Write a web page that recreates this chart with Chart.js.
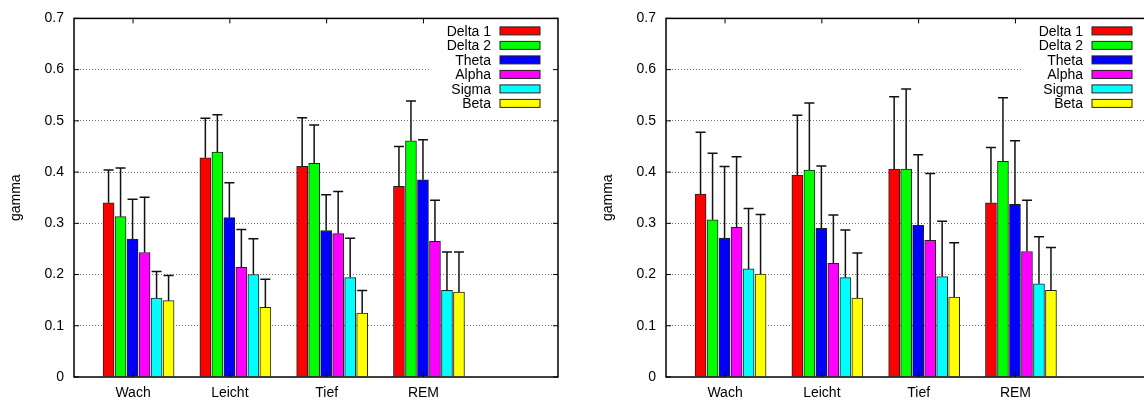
<html>
<head>
<script src="https://cdn.jsdelivr.net/npm/chart.js@4.4.1/dist/chart.umd.min.js"></script>
<style>
html, body { margin:0; padding:0; overflow:hidden; background:#fff; }
body { width:1144px; height:400px; position:relative; }
.panel { position:absolute; top:0; width:592px; height:400px; }
</style>
</head>
<body>
<div class="panel" style="left:0"><canvas id="left" width="592" height="400"></canvas></div>
<div class="panel" style="left:592px"><canvas id="right" width="592" height="400"></canvas></div>
<script>
// sleep stages on the x axis, frequency bands as series
var categories = ['Wach', 'Leicht', 'Tief', 'REM'];
var seriesNames = ['Delta 1', 'Delta 2', 'Theta', 'Alpha', 'Sigma', 'Beta'];
var yTicks = [0, 0.1, 0.2, 0.3, 0.4, 0.5, 0.6, 0.7];

// [series][category]
var leftMean = [
	[0.340, 0.428, 0.411, 0.372],
	[0.313, 0.439, 0.417, 0.461],
	[0.269, 0.311, 0.286, 0.385],
	[0.243, 0.214, 0.280, 0.265],
	[0.154, 0.200, 0.194, 0.169],
	[0.149, 0.136, 0.125, 0.166]
];
var leftErr = [
	[0.064, 0.077, 0.095, 0.078],
	[0.095, 0.073, 0.075, 0.078],
	[0.078, 0.068, 0.070, 0.078],
	[0.108, 0.074, 0.082, 0.080],
	[0.052, 0.070, 0.077, 0.075],
	[0.049, 0.055, 0.044, 0.078]
];
var rightMean = [
	[0.357, 0.394, 0.406, 0.340],
	[0.307, 0.404, 0.406, 0.421],
	[0.271, 0.290, 0.296, 0.337],
	[0.292, 0.222, 0.267, 0.245],
	[0.211, 0.194, 0.196, 0.182],
	[0.201, 0.154, 0.156, 0.169]
];
var rightErr = [
	[0.121, 0.117, 0.141, 0.108],
	[0.130, 0.131, 0.156, 0.124],
	[0.140, 0.122, 0.138, 0.124],
	[0.138, 0.094, 0.130, 0.100],
	[0.118, 0.093, 0.108, 0.092],
	[0.116, 0.088, 0.106, 0.084]
];

var colors = ['#ff0000', '#00ff00', '#0000ff', '#ff00ff', '#00ffff', '#ffff00'];
var FONT = '"Liberation Sans", Arial, Helvetica, sans-serif';
var barStep = 0.124;   // distance between bars in one cluster (x units)
var groupShift = 0.057;

// gnuplot look: frame, mirrored ticks, error bars, opaque key
var gnuplotLook = {
	id: 'gnuplotLook',
	beforeDatasetsDraw: function(chart) {
		var a = chart.chartArea, ctx = chart.ctx;
		ctx.save();
		ctx.fillStyle = '#fff';
		ctx.fillRect(a.right - 128, a.top + 2, 122, 92);
		ctx.restore();
	},
	afterDatasetsDraw: function(chart) {
		var a = chart.chartArea, ctx = chart.ctx;
		var xs = chart.scales.x, ys = chart.scales.y;
		var means = chart.options.plugins.gnuplotLook.means;
		var errs = chart.options.plugins.gnuplotLook.errs;
		ctx.save();
		// error bars
		ctx.strokeStyle = '#111';
		ctx.lineWidth = 1.5;
		chart.data.datasets.forEach(function(ds, j) {
			chart.getDatasetMeta(j).data.forEach(function(bar, i) {
				var top = ys.getPixelForValue(means[j][i] + errs[j][i]);
				ctx.beginPath();
				ctx.moveTo(bar.x, bar.y);
				ctx.lineTo(bar.x, top);
				ctx.moveTo(bar.x - 5, top);
				ctx.lineTo(bar.x + 5, top);
				ctx.stroke();
			});
		});
		// frame
		ctx.strokeStyle = '#000';
		ctx.lineWidth = 1.5;
		ctx.strokeRect(a.left, a.top, a.right - a.left, a.bottom - a.top);
		// mirrored ticks
		ctx.lineWidth = 1;
		ctx.beginPath();
		categories.forEach(function(c, i) {
			var px = xs.getPixelForValue(i);
			ctx.moveTo(px, a.top); ctx.lineTo(px, a.top + 5);
			ctx.moveTo(px, a.bottom); ctx.lineTo(px, a.bottom - 5);
		});
		yTicks.forEach(function(v) {
			var py = ys.getPixelForValue(v);
			ctx.moveTo(a.left, py); ctx.lineTo(a.left + 5, py);
			ctx.moveTo(a.right, py); ctx.lineTo(a.right - 5, py);
		});
		ctx.stroke();
		// key
		ctx.font = '14px ' + FONT;
		ctx.textAlign = 'right';
		ctx.textBaseline = 'middle';
		seriesNames.forEach(function(name, j) {
			var y = a.top + 12.5 + j * 14.5;
			ctx.fillStyle = '#000';
			ctx.fillText(name, a.right - 67, y + 1);
			ctx.fillStyle = colors[j];
			ctx.fillRect(a.right - 58, y - 4, 40, 8);
			ctx.strokeStyle = '#222';
			ctx.strokeRect(a.right - 58, y - 4, 40, 8);
		});
		ctx.restore();
	}
};

function makeChart(id, means, errs) {
	var datasets = seriesNames.map(function(name, j) {
		return {
			label: name,
			data: categories.map(function(c, i) {
				return { x: i + groupShift + (j - 2.5) * barStep, y: means[j][i] };
			}),
			backgroundColor: colors[j],
			borderColor: '#222',
			borderWidth: 1,
			barThickness: 11,
			grouped: false
		};
	});
	return new Chart(document.getElementById(id).getContext('2d'), {
		type: 'bar',
		data: { datasets: datasets },
		plugins: [gnuplotLook],
		options: {
			responsive: false,
			animation: false,
			layout: { padding: { left: 0, right: 34, top: 16, bottom: 0 } },
			scales: {
				x: {
					type: 'linear',
					offset: false,
					min: -0.61,
					max: 4.39,
					grid: { display: false, drawTicks: false, offset: false },
					border: { display: false },
					afterBuildTicks: function(s) {
						s.ticks = categories.map(function(c, i) { return { value: i }; });
					},
					afterFit: function(s) { s.height = 23; },
					ticks: {
						autoSkip: false,
						maxRotation: 0,
						padding: 8,
						color: '#000',
						font: { family: FONT, size: 14 },
						callback: function(v) { return categories[v]; }
					}
				},
				y: {
					min: 0,
					max: 0.7,
					afterBuildTicks: function(s) {
						s.ticks = yTicks.map(function(v) { return { value: v }; });
					},
					afterFit: function(s) { s.width = 74; },
					grid: {
						drawTicks: false,
						lineWidth: 1,
						color: function(c) {
							var v = c.tick ? c.tick.value : 0;
							return (v > 0.001 && v < 0.699) ? '#777' : 'rgba(0,0,0,0)';
						}
					},
					border: { display: false, dash: [1, 2] },
					ticks: {
						padding: 10,
						color: '#000',
						font: { family: FONT, size: 14 },
						callback: function(v) { return v === 0 ? '0' : v.toFixed(1); }
					},
					title: {
						display: true,
						text: 'gamma',
						color: '#000',
						font: { family: FONT, size: 14 },
						padding: { top: 8, bottom: 0 }
					}
				}
			},
			plugins: {
				legend: { display: false },
				tooltip: { enabled: false },
				gnuplotLook: { means: means, errs: errs }
			}
		}
	});
}

makeChart('left', leftMean, leftErr);
makeChart('right', rightMean, rightErr);
</script>
</body>
</html>
